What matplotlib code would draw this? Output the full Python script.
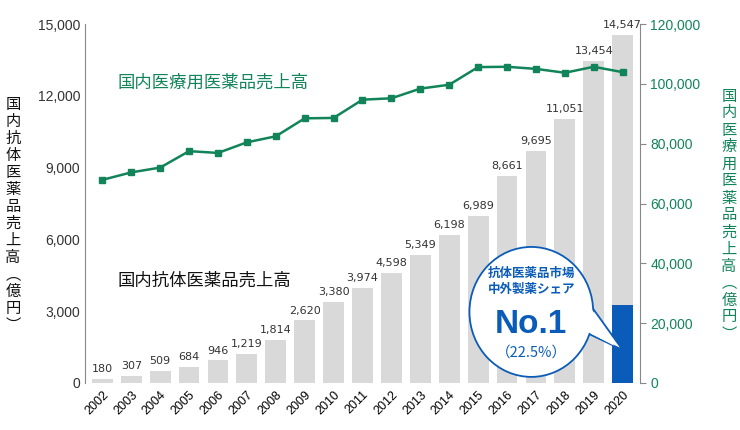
import matplotlib
matplotlib.use("Agg")
import matplotlib.pyplot as plt
from matplotlib.patches import Ellipse, Polygon

plt.rcParams["font.family"] = ["Noto Sans CJK JP"]

years = [str(y) for y in range(2002, 2021)]
antibody = [180, 307, 509, 684, 946, 1219, 1814, 2620, 3380, 3974, 4598, 5349, 6198, 6989, 8661, 9695, 11051, 13454, 14547]
total = [67900, 70400, 72000, 77500, 76900, 80450, 82460, 88470, 88600, 94700, 95170, 98400, 99700, 105600, 105700, 105000, 103700, 105700, 103900]
share_2020 = 0.225

GREEN = "#12845a"
BLUE = "#0a5cb8"

fig = plt.figure(figsize=(7.4, 4.3), dpi=100)
ax = fig.add_axes([85/740, 1-383/430, 555/740, 359/430])
ax2 = ax.twinx()

x = list(range(len(years)))
ax.bar(x, antibody, width=0.72, color="#d9d9d9", zorder=2)
ax.bar([x[-1]], [antibody[-1]*share_2020], width=0.72, color=BLUE, zorder=3)
for xi, v in zip(x, antibody):
    ax.text(xi, v + 200, f"{v:,}", ha="center", va="bottom", fontsize=8, color="#333", family="Liberation Sans Narrow")
ax.set_ylim(0, 15000)
ax.set_xlim(-0.6, len(x) - 0.4)
ax.set_yticks(range(0, 15001, 3000))
ax.set_yticklabels([f"{v:,}" for v in range(0, 15001, 3000)], fontsize=10, family="Liberation Sans")
ax.set_xticks(x)
ax.set_xticklabels(years, rotation=45, ha="right", rotation_mode="anchor", fontsize=9, family="Liberation Sans")
for s in ["top", "right"]:
    ax.spines[s].set_visible(False)
ax.spines["left"].set_color("#888")
ax.spines["bottom"].set_visible(False)
ax.tick_params(axis="x", length=0, pad=4)
ax.tick_params(axis="y", length=0, colors="#333")

ax2.plot(x, total, color=GREEN, lw=1.8, marker="s", ms=5, zorder=4)
ax2.set_ylim(0, 120000)
ax2.set_yticks(range(0, 120001, 20000))
ax2.set_yticklabels([f"{v:,}" for v in range(0, 120001, 20000)], fontsize=10, color=GREEN, family="Liberation Sans")
for s in ["top", "left", "bottom"]:
    ax2.spines[s].set_visible(False)
ax2.spines["right"].set_color("#888")
ax2.tick_params(axis="y", length=4, color="#888")

def vert(s):
    return "\n".join(s.replace("（", "︵").replace("）", "︶"))

fig.text(13/740, 1-215/430, vert("国内抗体医薬品売上高（億円）"), ha="center", va="center", fontsize=11, linespacing=1.0, color="#111")
fig.text(729/740, 1-215/430, vert("国内医療用医薬品売上高（億円）"), ha="center", va="center", fontsize=11, linespacing=1.0, color=GREEN)

ax.text(0.53, 12535, "国内医療用医薬品売上高", fontsize=12.5, color=GREEN, va="center")
ax.text(0.53, 4260, "国内抗体医薬品売上高", fontsize=12.5, color="#111", va="center")

# callout
ax.add_patch(Polygon([[16.4, 2300], [18.0, 1380], [16.8, 3400]], closed=True, fc="white", ec=BLUE, lw=1.3, zorder=5))
ax.add_patch(Ellipse((14.84, 2970), 4.28, 5430, fc="white", ec=BLUE, lw=1.3, zorder=6))
ax.add_patch(Polygon([[16.45, 2350], [17.7, 1560], [16.8, 3350]], closed=True, fc="white", ec="none", zorder=7))
ax.text(14.84, 4250, "抗体医薬品市場\n中外製薬シェア", ha="center", va="center", fontsize=9, color=BLUE, zorder=8, linespacing=1.35, weight="bold")
ax.text(14.84, 2450, "No.1", ha="center", va="center", fontsize=24, color=BLUE, weight="bold", family="Liberation Sans", zorder=8)
ax.text(14.84, 1250, "（22.5%）", ha="center", va="center", fontsize=10.5, color=BLUE, zorder=8)

fig.savefig("out.png", dpi=100)
